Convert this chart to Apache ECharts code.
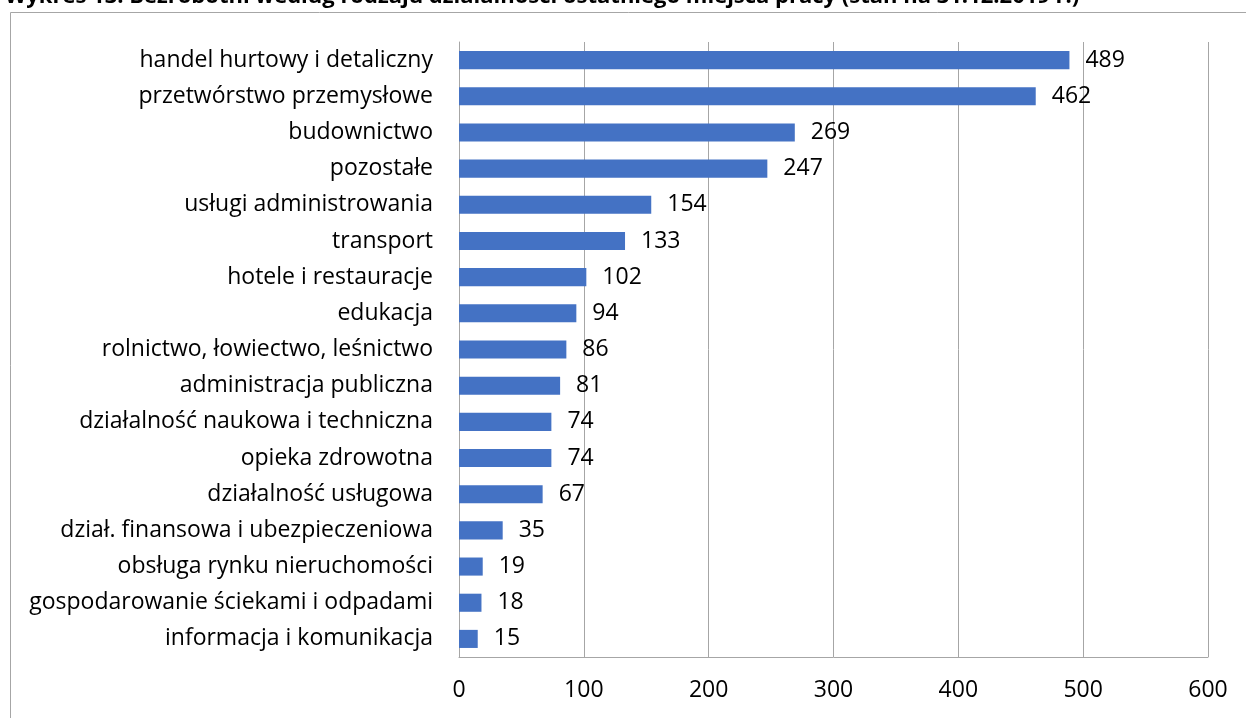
<!DOCTYPE html>
<html>
<head>
<meta charset="utf-8">
<title>Bezrobotni według rodzaju działalności</title>
<script src="https://cdn.jsdelivr.net/npm/echarts@6/dist/echarts.min.js"></script>
<style>
  html, body { margin: 0; padding: 0; background: #fff; overflow: hidden; }
  #chart { width: 1246px; height: 718px; }
</style>
</head>
<body>
<div id="chart"></div>
<script>
  const categories = [
    'handel hurtowy i detaliczny',
    'przetwórstwo przemysłowe',
    'budownictwo',
    'pozostałe',
    'usługi administrowania',
    'transport',
    'hotele i restauracje',
    'edukacja',
    'rolnictwo, łowiectwo, leśnictwo',
    'administracja publiczna',
    'działalność naukowa i techniczna',
    'opieka zdrowotna',
    'działalność usługowa',
    'dział. finansowa i ubezpieczeniowa',
    'obsługa rynku nieruchomości',
    'gospodarowanie ściekami i odpadami',
    'informacja i komunikacja'
  ]
  const values = [489, 462, 269, 247, 154, 133, 102, 94, 86, 81, 74, 74, 67, 35, 19, 18, 15]
  const titleText = 'Wykres 13. Bezrobotni według rodzaju działalności ostatniego miejsca pracy (stan na 31.12.2019 r.)'

  const font = '"Open Sans", Lato, sans-serif'
  const myChart = echarts.init(document.getElementById('chart'))

  myChart.setOption({
    animation: false,
    title: {
      text: titleText,
      left: 0,
      top: -19,
      textStyle: { fontFamily: font, fontSize: 22, fontWeight: 'bold', color: '#000' }
    },
    graphic: [{
      type: 'rect',
      shape: { x: 10.5, y: 12.5, width: 1240, height: 720 },
      style: { fill: 'none', stroke: '#a6a6a6', lineWidth: 1 },
      silent: true
    }],
    grid: { left: 459, right: 38, top: 42, bottom: 61 },
    xAxis: {
      type: 'value',
      min: 0,
      max: 600,
      interval: 100,
      axisLine: { show: true, lineStyle: { color: '#a6a6a6' } },
      axisTick: { show: false },
      splitLine: { lineStyle: { color: '#a6a6a6' } },
      axisLabel: { margin: 22, color: '#000', fontFamily: font, fontSize: 23 }
    },
    yAxis: {
      type: 'category',
      inverse: true,
      data: categories,
      axisLine: { lineStyle: { color: '#a6a6a6' } },
      axisTick: { show: false },
      axisLabel: { margin: 26, color: '#000', fontFamily: font, fontSize: 23 }
    },
    series: [{
      type: 'bar',
      data: values,
      barWidth: '50%',
      itemStyle: { color: '#4472c4' },
      label: {
        show: true,
        position: 'right',
        distance: 16,
        color: '#000',
        fontFamily: font,
        fontSize: 23
      }
    }]
  })
</script>
</body>
</html>
